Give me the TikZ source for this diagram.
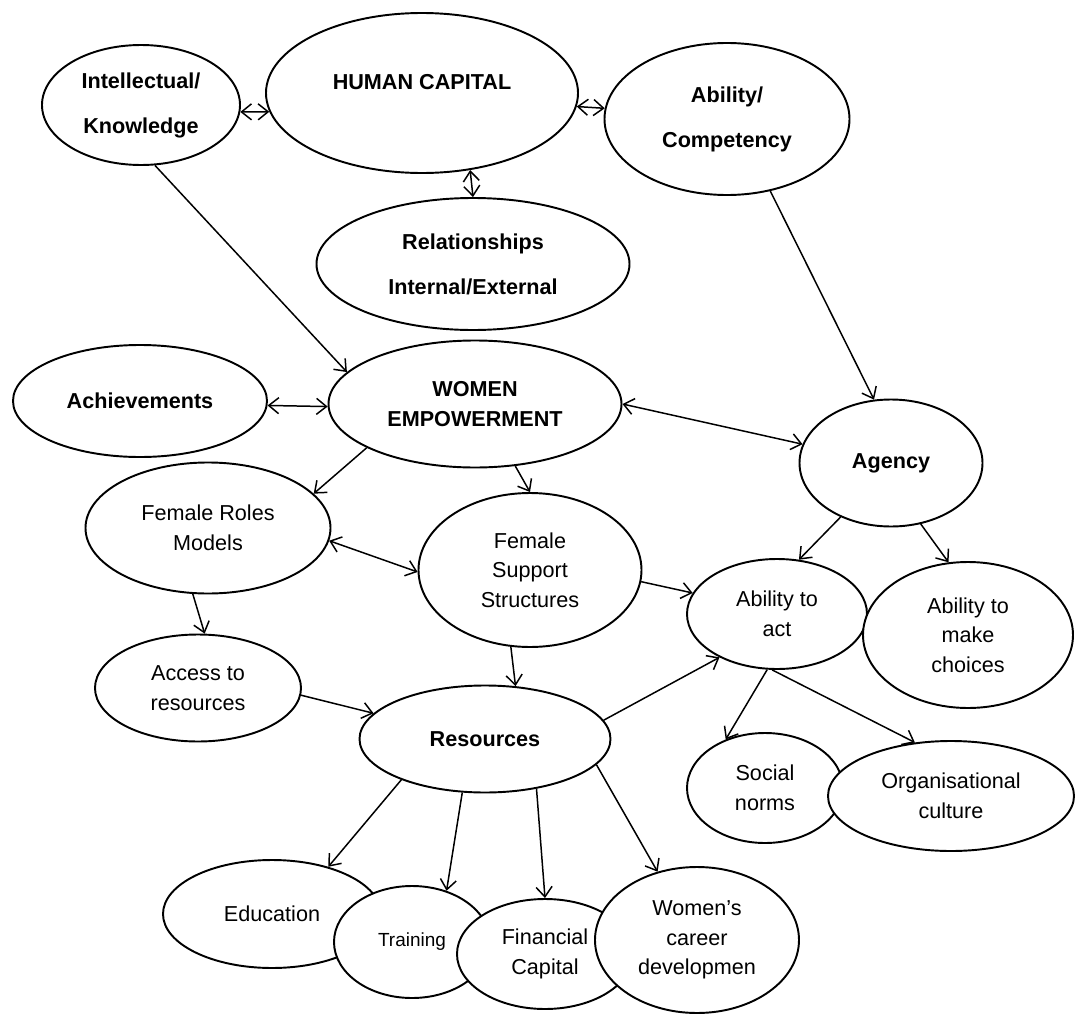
\documentclass[tikz,border=0pt]{standalone}
\usepackage{fontspec}
\setmainfont{Liberation Sans}
\usetikzlibrary{shapes.geometric,arrows.meta}

\begin{document}
\begin{tikzpicture}[x=0.02cm,y=-0.02cm,
  el/.style={ellipse,draw,fill=white,line width=1.1pt,inner sep=0pt,align=center,
    font=\fontsize{12.3}{16.8}\selectfont},
  hd/.style={el,font=\bfseries\fontsize{12.3}{16.8}\selectfont},
  dbl/.style={el,font=\bfseries\fontsize{12.3}{25.6}\selectfont},
  sz/.style 2 args={minimum width=#1*0.02cm,minimum height=#2*0.02cm},
  ar/.style={-{Straight Barb[length=2mm,width=3.2mm]},line width=0.85pt},
  dar/.style={{Straight Barb[length=2mm,width=3.2mm]}-{Straight Barb[length=2mm,width=3.2mm]},line width=0.85pt}]
  \useasboundingbox (0,0) rectangle (1079,1014);
  % human capital row
  \node[dbl,sz={198}{120}] (int) at (141,105) {Intellectual/\\Knowledge};
  \node[hd,sz={312}{160},text depth=0.45cm] (hc) at (422,93) {HUMAN CAPITAL};
  \node[dbl,sz={245}{152}] (abil) at (727,119) {Ability/\\Competency};
  \node[dbl,sz={313}{132}] (rel) at (473,264) {Relationships\\Internal/External};
  % empowerment
  \node[hd,sz={254}{112}] (ach) at (140,401) {Achievements};
  \node[hd,sz={293}{127}] (we) at (475,404) {WOMEN\\EMPOWERMENT};
  \node[hd,sz={183}{127}] (agency) at (891,463) {Agency};
  \node[el,sz={245}{131}] (frm) at (208,528) {Female Roles\\Models};
  \node[el,sz={223}{154}] (fss) at (530,570) {Female\\Support\\Structures};
  \node[el,sz={180}{110}] (act) at (777,614) {Ability to\\act};
  \node[el,sz={210}{146}] (choice) at (968,635) {Ability to\\make\\choices};
  \node[el,sz={206}{107}] (access) at (198,688) {Access to\\resources};
  \node[hd,sz={251}{107}] (res) at (485,739) {Resources};
  \node[el,sz={156}{110}] (social) at (765,788) {Social\\norms};
  \node[el,sz={246}{110}] (org) at (951,796) {Organisational\\culture};
  % resources, overlapping
  \node[el,sz={218}{108}] (edu) at (272,914) {Education};
  \node[el,sz={156}{112},font=\fontsize{10.8}{14}\selectfont] (train) at (412,942) {Training};
  \node[el,sz={176}{110}] (fin) at (545,954) {Financial\\Capital};
  \node[el,sz={204}{146}] (career) at (697,940) {Women’s\\career\\developmen};
  % links
  \draw[dar] (int.-4) -- (hc.187);
  \draw[dar] (hc.-5.5) -- (abil.175);
  \draw[dar] (hc.-58) -- (rel.90);
  \draw[ar] (int.-77) -- (we.166);
  \draw[ar] (abil.-59.5) -- (agency.105);
  \draw[dar] (ach.-2.7) -- (we.181);
  \draw[dar] (we.-0.4) -- (agency.168);
  \draw[ar] (we.202) -- (frm.18);
  \draw[ar] (we.-57.4) -- (fss.90);
  \draw[dar] (frm.-6.7) -- (fss.181);
  \draw[ar] (frm.-103) -- (access.83);
  \draw[ar] (fss.-6) -- (act.166);
  \draw[ar] (fss.-104) -- (res.60);
  \draw[ar] (access.-4) -- (res.167);
  \draw[ar] (agency.-133) -- (act.68);
  \draw[ar] (agency.-64) -- (choice.105);
  \draw[ar] (res.9.4) -- (act.217);
  \draw[ar] (act.-100) -- (social.129);
  \draw[ar] (act.-95) -- (org.124);
  \draw[ar] (res.-154.5) -- (edu.40);
  \draw[ar] (res.-113) -- (train.56);
  \draw[ar] (res.-44.4) -- (fin.90);
  \draw[ar] (res.-13) -- (career.120);
\end{tikzpicture}
\end{document}
